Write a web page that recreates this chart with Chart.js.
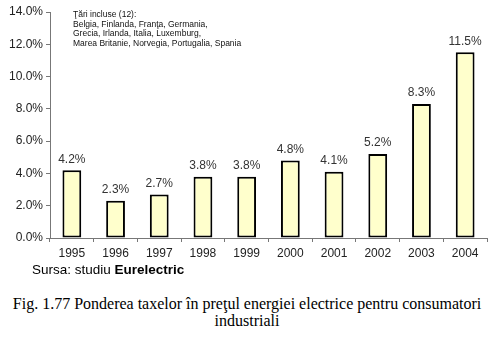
<!DOCTYPE html>
<html><head><meta charset="utf-8">
<script src="https://cdn.jsdelivr.net/npm/chart.js@4/dist/chart.umd.min.js"></script>
<style>
html,body{margin:0;padding:0;background:#fff;width:494px;height:337px;overflow:hidden;position:relative}
#wrap{position:absolute;left:0;top:0;width:494px;height:275px}
#note{position:absolute;left:73px;top:10px;font:8.5px "Liberation Sans",Arial,sans-serif;line-height:9.6px;color:#111}
#src{position:absolute;left:32px;top:262px;font:13.5px "Liberation Sans",Arial,sans-serif;color:#000}
#cap{position:absolute;left:0;top:295px;width:494px;text-align:center;font:16px "Liberation Serif","Times New Roman",serif;line-height:17px;color:#000}
</style></head>
<body>
<div id="wrap"><canvas id="c"></canvas></div>
<div id="note">Ţări incluse (12):<br>Belgia, Finlanda, Franţa, Germania,<br>Grecia, Irlanda, Italia, Luxemburg,<br>Marea Britanie, Norvegia, Portugalia, Spania</div>
<div id="src">Sursa: studiu <b>Eurelectric</b></div>
<div id="cap">Fig. 1.77 Ponderea taxelor în preţul energiei electrice pentru consumatori<br>industriali</div>
<script>
const categories = ['1995','1996','1997','1998','1999','2000','2001','2002','2003','2004'];
const values = [4.2, 2.3, 2.7, 3.8, 3.8, 4.8, 4.1, 5.2, 8.3, 11.5];
const yTicks = [0, 2, 4, 6, 8, 10, 12, 14];

const labelPlugin = {
  id: 'valLabels',
  afterDatasetsDraw(chart) {
    const ctx = chart.ctx;
    const meta = chart.getDatasetMeta(0);
    ctx.save();
    ctx.font = '12px "Liberation Sans", Arial, sans-serif';
    ctx.fillStyle = '#333';
    ctx.textAlign = 'center';
    ctx.textBaseline = 'bottom';
    meta.data.forEach((bar, i) => {
      ctx.fillText(values[i].toFixed(1) + '%', bar.x, bar.y - 5);
    });
    ctx.restore();
  }
};

new Chart(document.getElementById('c'), {
  type: 'bar',
  data: {
    labels: categories,
    datasets: [{
      data: values,
      backgroundColor: '#FFFFCC',
      borderColor: '#000',
      borderWidth: 2,
      borderSkipped: false,
      barPercentage: 0.86,
      categoryPercentage: 0.5
    }]
  },
  options: {
    responsive: true,
    maintainAspectRatio: false,
    animation: false,
    layout: { padding: { left: 0, top: 12, right: 7, bottom: 0 } },
    plugins: { legend: { display: false }, tooltip: { enabled: false } },
    scales: {
      x: {
        afterFit(s) { s.height = 37; },
        grid: { display: true, drawOnChartArea: false, drawTicks: true, tickLength: 4, color: '#777', offset: true },
        border: { display: true, color: '#777', width: 1, dash: [1, 1] },
        ticks: { color: '#222', padding: 4, font: { family: '"Liberation Sans", Arial, sans-serif', size: 12 } }
      },
      y: {
        min: 0, max: 14,
        afterFit(s) { s.width = 50; },
        afterBuildTicks(s) { s.ticks = yTicks.map(v => ({ value: v })); },
        grid: { display: true, drawOnChartArea: false, drawTicks: true, tickLength: 4, color: '#777' },
        border: { display: true, color: '#777', width: 1, dash: [1, 1] },
        ticks: { color: '#222', padding: 3, font: { family: '"Liberation Sans", Arial, sans-serif', size: 12 },
                 callback: v => Number(v).toFixed(1) + '%' }
      }
    }
  },
  plugins: [labelPlugin]
});
</script>
</body></html>
